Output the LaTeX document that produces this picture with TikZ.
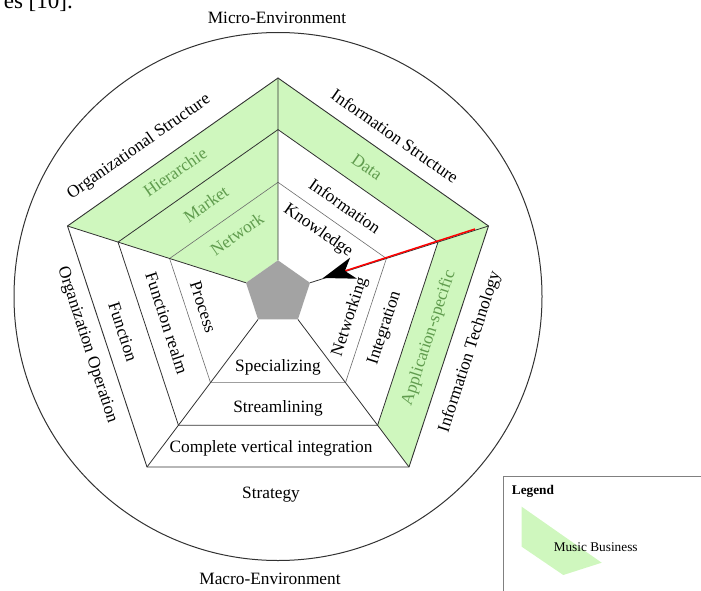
\documentclass[tikz,border=0pt]{standalone}
\usepackage{fontspec}
\setmainfont{Liberation Serif}
\usepackage{tikz}
\usetikzlibrary{arrows.meta}
\definecolor{musicgreen}{RGB}{207,247,190}
\definecolor{textgreen}{RGB}{96,156,78}
\definecolor{edgegray}{RGB}{50,50,50}
\definecolor{coregray}{RGB}{163,163,163}

\begin{document}
\begin{tikzpicture}[x=1pt,y=-1pt,
	lbl/.style={font=\fontsize{17.3}{20}\selectfont,inner sep=0pt},
	glbl/.style={lbl,text=textgreen},
	small/.style={font=\fontsize{13.3}{16}\selectfont,inner sep=0pt}]
		\useasboundingbox (0,0) rectangle (701,591);
		\clip (0,0) rectangle (701,591);
		\coordinate (o0) at (278,78);
		\coordinate (o1) at (488.5,226);
		\coordinate (o2) at (409,467);
		\coordinate (o3) at (147,467);
		\coordinate (o4) at (67.5,226);
		\coordinate (a0) at (278,129.6);
		\coordinate (a1) at (438,242.1);
		\coordinate (a2) at (377.6,425.2);
		\coordinate (a3) at (178.4,425.2);
		\coordinate (a4) at (118,242.1);
		\coordinate (b0) at (278,182.3);
		\coordinate (b1) at (386.4,258.5);
		\coordinate (b2) at (345.5,382.6);
		\coordinate (b3) at (210.5,382.6);
		\coordinate (b4) at (169.6,258.5);
		\coordinate (i0) at (278,260.3);
		\coordinate (i1) at (310,282.8);
		\coordinate (i2) at (297.9,319.4);
		\coordinate (i3) at (258.1,319.4);
		\coordinate (i4) at (246,282.8);
		\coordinate (env) at (278,296.5);
		\draw[edgegray,line width=1pt] (env) circle (264);
		\fill[musicgreen] (o4) -- (o0) -- (i0) -- (i4) -- cycle;
		\fill[musicgreen] (o0) -- (o1) -- (a1) -- (a0) -- cycle;
		\fill[musicgreen] (o1) -- (o2) -- (a2) -- (a1) -- cycle;
		\draw[gray!85!black,line width=0.6pt] (b0) -- (b1) -- (b2) -- (b3) -- (b4) -- cycle;
		\draw[edgegray,line width=0.8pt] (a0) -- (a1) -- (a2) -- (a3) -- (a4) -- cycle;
		\draw[edgegray,line width=0.8pt] (o0) -- (i0) (o1) -- (i1) (o2) -- (i2) (o3) -- (i3) (o4) -- (i4);
		\draw[edgegray,line width=0.9pt] (o0) -- (o1) -- (o2) -- (o3) -- (o4) -- cycle;
		\fill[coregray] (i0) -- (i1) -- (i2) -- (i3) -- (i4) -- cycle;
		\node[lbl,rotate=35] (orgstruct) at (139,147) {Organizational Structure};
		\node[glbl,rotate=35] (hier) at (175,172) {Hierarchie};
		\node[glbl,rotate=35] (market) at (206,204) {Market};
		\node[glbl,rotate=35] (netw) at (237,234) {Network};
		\node[lbl,rotate=-35] (infstruct) at (395,136) {Information Structure};
		\node[glbl,rotate=-35] (data) at (367,167) {Data};
		\node[lbl,rotate=-35] (inform) at (345,206) {Information};
		\node[lbl,rotate=-35] (knowl) at (318,231) {Knowledge};
		\node[lbl,rotate=72] (infotech) at (470,352) {Information Technology};
		\node[glbl,rotate=72] (appspec) at (429,338) {Application-specific};
		\node[lbl,rotate=72] (integr) at (385,328) {Integration};
		\node[lbl,rotate=72] (networking) at (350,317) {Networking};
		\node[lbl,rotate=-72] (orgop) at (87,345) {Organization Operation};
		\node[lbl,rotate=-72] (funct) at (123,332) {Function};
		\node[lbl,rotate=-72] (functrealm) at (167,323) {Function realm};
		\node[lbl,rotate=-72] (process) at (203,307) {Process};
		\node[lbl] (special) at (278,367) {Specializing};
		\node[lbl] (stream) at (278,408) {Streamlining};
		\node[lbl] (complete) at (271,448) {Complete vertical integration};
		\node[lbl] (strategy) at (271,495) {Strategy};
		\node[lbl] (micro) at (277,18) {Micro-Environment};
		\node[lbl] (macro) at (270,579) {Macro-Environment};
		\node[font=\fontsize{23}{26}\selectfont,inner sep=0pt,anchor=base east] (cite) at (73,8.5) {es [10].};
		\coordinate (arrstart) at (475,229);
		\coordinate (arrtip) at (323,278);
		\draw[red,line width=1.5pt,-{Stealth[color=black,length=32pt,width=22pt,inset=9pt]}] (arrstart) -- (arrtip);
		\draw[gray,line width=1.5pt] (503.3,640) -- (503.3,476.7) -- (740,476.7);
		\fill[musicgreen] (521.7,506.7) -- (521.7,546.7) -- (563.3,575) -- (601.7,562.7) -- cycle;
		\node[small,font=\fontsize{13.3}{16}\selectfont\bfseries,anchor=west] (legend) at (511.7,491) {Legend};
		\node[small] (music) at (595.7,547.3) {Music Business};
\end{tikzpicture}
\end{document}
